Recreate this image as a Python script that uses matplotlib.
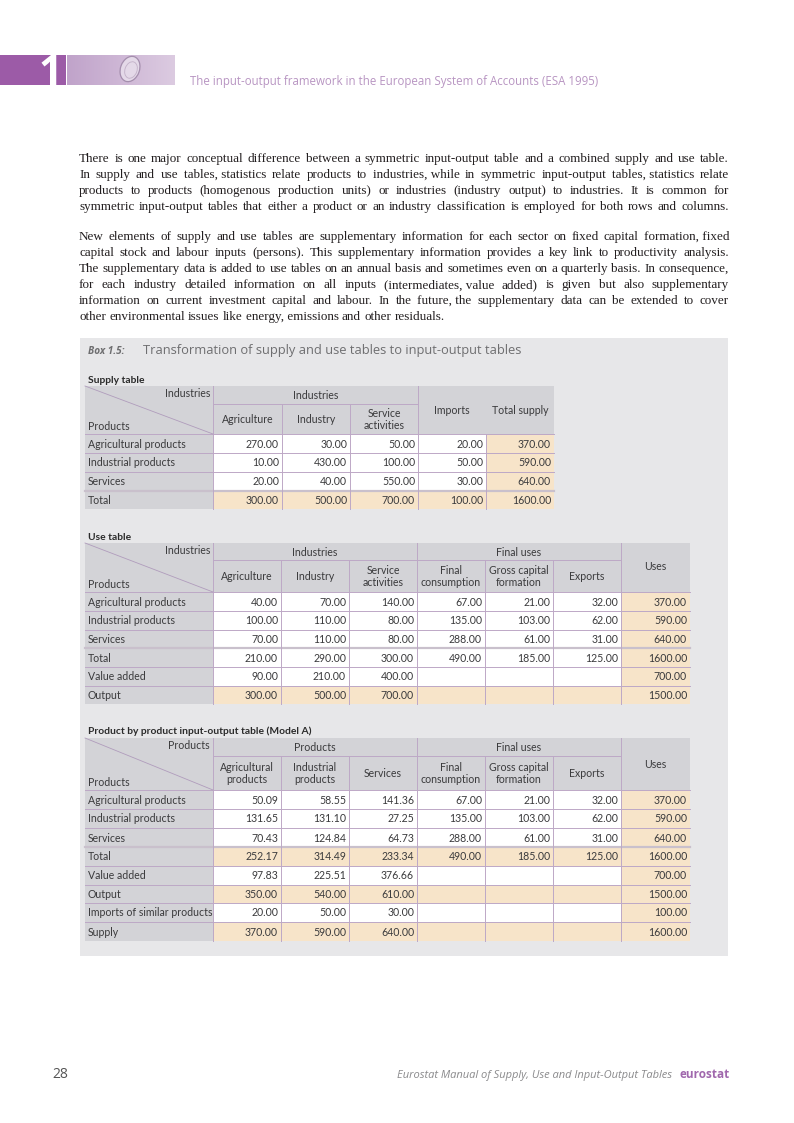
import matplotlib
matplotlib.use("Agg")
import matplotlib.pyplot as plt
from matplotlib.patches import Rectangle, Ellipse
from matplotlib.colors import LinearSegmentedColormap
import numpy as np

# ---------------- data ----------------
supply_rows = ["Agricultural products", "Industrial products", "Services", "Total"]
supply_cols = ["Agriculture", "Industry", "Service\nactivities", "Imports", "Total supply"]
supply_agri = [270.00, 10.00, 20.00, 300.00]
supply_ind = [30.00, 430.00, 40.00, 500.00]
supply_serv = [50.00, 100.00, 550.00, 700.00]
supply_imp = [20.00, 50.00, 30.00, 100.00]
supply_total = [370.00, 590.00, 640.00, 1600.00]

use_rows = ["Agricultural products", "Industrial products", "Services", "Total", "Value added", "Output"]
use_cols = ["Agriculture", "Industry", "Service\nactivities", "Final\nconsumption", "Gross capital\nformation", "Exports", "Uses"]
use_agri = [40.00, 100.00, 70.00, 210.00, 90.00, 300.00]
use_ind = [70.00, 110.00, 110.00, 290.00, 210.00, 500.00]
use_serv = [140.00, 80.00, 80.00, 300.00, 400.00, 700.00]
use_fc = [67.00, 135.00, 288.00, 490.00]
use_gcf = [21.00, 103.00, 61.00, 185.00]
use_exp = [32.00, 62.00, 31.00, 125.00]
use_uses = [370.00, 590.00, 640.00, 1600.00, 700.00, 1500.00]

io_rows = ["Agricultural products", "Industrial products", "Services", "Total", "Value added",
           "Output", "Imports of similar products", "Supply"]
io_cols = ["Agricultural\nproducts", "Industrial\nproducts", "Services", "Final\nconsumption",
           "Gross capital\nformation", "Exports", "Uses"]
io_agri = [50.09, 131.65, 70.43, 252.17, 97.83, 350.00, 20.00, 370.00]
io_ind = [58.55, 131.10, 124.84, 314.49, 225.51, 540.00, 50.00, 590.00]
io_serv = [141.36, 27.25, 64.73, 233.34, 376.66, 610.00, 30.00, 640.00]
io_fc = [67.00, 135.00, 288.00, 490.00]
io_gcf = [21.00, 103.00, 61.00, 185.00]
io_exp = [32.00, 62.00, 31.00, 125.00]
io_uses = [370.00, 590.00, 640.00, 1600.00, 700.00, 1500.00, 100.00, 1600.00]

para1 = ["There is one major conceptual difference between a symmetric input-output table and a combined supply and use table.",
         "In supply and use tables, statistics relate products to industries, while in symmetric input-output tables, statistics relate",
         "products to products (homogenous production units) or industries (industry output) to industries. It is common for",
         "symmetric input-output tables that either a product or an industry classification is employed for both rows and columns."]
para2 = ["New elements of supply and use tables are supplementary information for each sector on fixed capital formation, fixed",
         "capital stock and labour inputs (persons). This supplementary information provides a key link to productivity analysis.",
         "The supplementary data is added to use tables on an annual basis and sometimes even on a quarterly basis. In consequence,",
         "for each industry detailed information on all inputs (intermediates, value added) is given but also supplementary",
         "information on current investment capital and labour. In the future, the supplementary data can be extended to cover",
         "other environmental issues like energy, emissions and other residuals."]

# ---------------- figure ----------------
W, H = 794, 1123
fig = plt.figure(figsize=(W / 100, H / 100), dpi=100)
ax = fig.add_axes([0, 0, 1, 1])
ax.set_xlim(0, W)
ax.set_ylim(H, 0)
ax.axis("off")
fig.canvas.draw()
renderer = fig.canvas.get_renderer()

SERIF = ["Liberation Serif", "DejaVu Serif"]
SANS = "Lato"
OPEN = "Open Sans"

def width(t):
    return t.get_window_extent(renderer).width

def measure(s, fs, family):
    t = ax.text(0, 0, s, fontsize=fs, family=family)
    w = width(t)
    t.remove()
    return w

def fit(t, target):
    w = width(t)
    t.set_fontsize(round(t.get_fontsize() * target / w, 2))
    return t

# header band
grad = np.linspace(0, 1, 200).reshape(1, -1)
cm = LinearSegmentedColormap.from_list("g", ["#c0a3ca", "#dccbe1"])
ax.imshow(grad, extent=(67, 175, 85, 55), cmap=cm, aspect="auto", zorder=1)
ax.add_patch(Rectangle((0, 55), 66, 30, facecolor="#9c5ba7", edgecolor="none", zorder=2))
ax.text(62, 85, "1", fontsize=30, color="white", fontweight="bold", family=OPEN, ha="right", va="baseline", zorder=3)
ax.add_patch(Ellipse((130, 69), 19, 26, angle=20, facecolor="#e4d9e8", edgecolor="#a48ead", lw=0.9, zorder=3))
ax.add_patch(Ellipse((131, 70), 12, 17, angle=20, facecolor="none", edgecolor="#c2b1c8", lw=0.6, zorder=3))
t = ax.text(190, 85, "The input-output framework in the European System of Accounts (ESA 1995)",
            fontsize=8.5, color="#b895c2", family=OPEN, va="baseline")
fit(t, 407)

# paragraphs: body size chosen so the longest justified line fits the measure
just_lines = para1 + para2[:-1]
FS_BODY = round(10 * 648 / max(measure(l, 10, SERIF) for l in just_lines), 2)

def text_line(x0, x1, y, s, fs, justify=True):
    raw = s.split(" ")
    # keep a word that ends with a comma together with the next word
    chunks = []
    buf = ""
    for w in raw:
        buf = (buf + " " + w) if buf else w
        if not w.endswith(","):
            chunks.append(buf)
            buf = ""
    if buf:
        chunks.append(buf)
    ws = [measure(c, fs, SERIF) for c in chunks]
    if justify and len(chunks) > 1:
        gap = (x1 - x0 - sum(ws)) / (len(chunks) - 1)
    else:
        gap = measure("a b", fs, SERIF) - measure("ab", fs, SERIF)
    x = x0
    for c, w in zip(chunks, ws):
        ax.text(x, y, c, fontsize=fs, family=SERIF, color="#231f20", va="baseline")
        x += w + gap

for i, line in enumerate(para1):
    text_line(79, 729, 162 + i * 16, line, FS_BODY, True)
for i, line in enumerate(para2):
    text_line(79, 729, 240 + i * 16, line, FS_BODY, i < len(para2) - 1)

# box background
ax.add_patch(Rectangle((80, 338), 648, 618, facecolor="#e7e7e9", edgecolor="none", zorder=0))
ax.text(88, 354, "Box 1.5:", fontsize=7.2, fontweight="bold", style="italic", color="#6e6e70",
        family=OPEN, va="baseline")
t = ax.text(143, 354, "Transformation of supply and use tables to input-output tables", fontsize=10,
            color="#6e6e70", family=OPEN, va="baseline")
fit(t, 378)

GRAY = "#d3d3d7"
PEACH = "#f7e4c9"
LINE = "#bda8c6"
TXT = "#3a3a3c"
FS_T = 7.6

def draw_table(title, ty, xe, ytop, ymid, ybot, ye, spans, full_cols, subheads, row_labels,
               cols_data, peach_rows, corner_top):
    ax.text(88, ty, title, fontsize=7.4, fontweight="bold", color="#2b2b2b", family=SANS, va="baseline")
    x0, x1 = xe[0], xe[-1]
    ax.add_patch(Rectangle((x0, ytop), x1 - x0, ybot - ytop, facecolor=GRAY, edgecolor="none", zorder=1))
    ncol = len(xe) - 1
    for r in range(len(row_labels)):
        ya, yb = ye[r], ye[r + 1]
        ax.add_patch(Rectangle((x0, ya), xe[1] - x0, yb - ya, facecolor=GRAY, edgecolor="none", zorder=1))
        for c in range(1, ncol):
            fc = PEACH if (r in peach_rows or c == ncol - 1) else "white"
            ax.add_patch(Rectangle((xe[c], ya), xe[c + 1] - xe[c], yb - ya, facecolor=fc, edgecolor="none", zorder=1))
        ax.text(x0 + 3, (ya + yb) / 2 + 0.5, row_labels[r], fontsize=FS_T, color=TXT, family=SANS,
                va="center", ha="left", zorder=4)
        for c in range(1, ncol):
            vals = cols_data[c - 1]
            if r < len(vals):
                ax.text(xe[c + 1] - 3, (ya + yb) / 2 + 0.5, f"{vals[r]:.2f}", fontsize=FS_T, color=TXT,
                        family=SANS, va="center", ha="right", zorder=4)
        if r > 0:
            lw = 1.6 if r == 3 else 0.7
            ax.plot([x0, x1], [ya, ya], color=LINE if r != 3 else "#c9c0cc", lw=lw, zorder=3)
    for c in range(1, ncol):
        ax.plot([xe[c], xe[c]], [ybot, ye[-1]], color=LINE, lw=0.7, zorder=3)
    ax.plot([xe[1], xe[1]], [ytop, ybot], color=LINE, lw=0.7, zorder=3)
    for (ca, cb, txt) in spans:
        ax.plot([xe[ca], xe[cb + 1]], [ymid, ymid], color=LINE, lw=0.7, zorder=3)
        ax.plot([xe[cb + 1], xe[cb + 1]], [ytop, ybot], color=LINE, lw=0.7, zorder=3)
        for c in range(ca + 1, cb + 1):
            ax.plot([xe[c], xe[c]], [ymid, ybot], color=LINE, lw=0.7, zorder=3)
        ax.text((xe[ca] + xe[cb + 1]) / 2, (ytop + ymid) / 2 + 0.5, txt, fontsize=FS_T, color=TXT,
                family=SANS, ha="center", va="center", zorder=4)
    for (c, txt, yy) in full_cols:
        ax.text((xe[c] + xe[c + 1]) / 2, yy, txt, fontsize=FS_T, color=TXT, family=SANS,
                ha="center", va="center", zorder=4)
    for c, txt in subheads.items():
        ax.text((xe[c] + xe[c + 1]) / 2, (ymid + ybot) / 2 + 0.5, txt, fontsize=FS_T, color=TXT,
                family=SANS, ha="center", va="center", linespacing=1.15, zorder=4)
    ax.plot([x0, x1], [ybot, ybot], color=LINE, lw=0.7, zorder=3)
    ax.plot([x0, xe[1]], [ytop, ybot], color="#b09cbc", lw=0.6, zorder=3)
    ax.text(xe[1] - 3, ytop + 7.5, corner_top, fontsize=FS_T, color=TXT, family=SANS,
            ha="right", va="center", zorder=4)
    ax.text(x0 + 3, ybot - 7, "Products", fontsize=FS_T, color=TXT, family=SANS,
            ha="left", va="center", zorder=4)

draw_table("Supply table", 383,
           [85, 213, 282, 350, 418, 486, 554], 386, 404, 434,
           [434, 453, 472, 490.5, 509],
           [(1, 3, "Industries")],
           [(4, supply_cols[3], 410), (5, supply_cols[4], 410)],
           {1: supply_cols[0], 2: supply_cols[1], 3: supply_cols[2]},
           supply_rows,
           [supply_agri, supply_ind, supply_serv, supply_imp, supply_total],
           [3], "Industries")

xe_big = [85, 213, 281, 349, 417, 485, 553, 621, 690]
draw_table("Use table", 540,
           xe_big, 543, 560, 592,
           [592, 611, 629.5, 648, 667, 685.5, 704],
           [(1, 3, "Industries"), (4, 6, "Final uses")],
           [(7, use_cols[6], 567)],
           {1: use_cols[0], 2: use_cols[1], 3: use_cols[2], 4: use_cols[3], 5: use_cols[4], 6: use_cols[5]},
           use_rows,
           [use_agri, use_ind, use_serv, use_fc, use_gcf, use_exp, use_uses],
           [5], "Industries")

draw_table("Product by product input-output table (Model A)", 734,
           xe_big, 738, 756, 790,
           [790, 809, 828, 847, 865.5, 884.5, 903, 922, 941],
           [(1, 3, "Products"), (4, 6, "Final uses")],
           [(7, io_cols[6], 764)],
           {1: io_cols[0], 2: io_cols[1], 3: io_cols[2], 4: io_cols[3], 5: io_cols[4], 6: io_cols[5]},
           io_rows,
           [io_agri, io_ind, io_serv, io_fc, io_gcf, io_exp, io_uses],
           [3, 5, 7], "Products")

# footer
ax.text(52, 1078, "28", fontsize=10, color="#555555", family=OPEN, va="baseline")
t2 = ax.text(730, 1078, "eurostat", fontsize=8.5, fontweight="bold", color="#a068ad",
             family=OPEN, ha="right", va="baseline")
fit(t2, 50)
t1 = ax.text(672, 1078, "Eurostat Manual of Supply, Use and Input-Output Tables", fontsize=8.5,
             style="italic", color="#8a8a8c", family=OPEN, ha="right", va="baseline")
fit(t1, 275)

fig.savefig("out.png", dpi=100)
